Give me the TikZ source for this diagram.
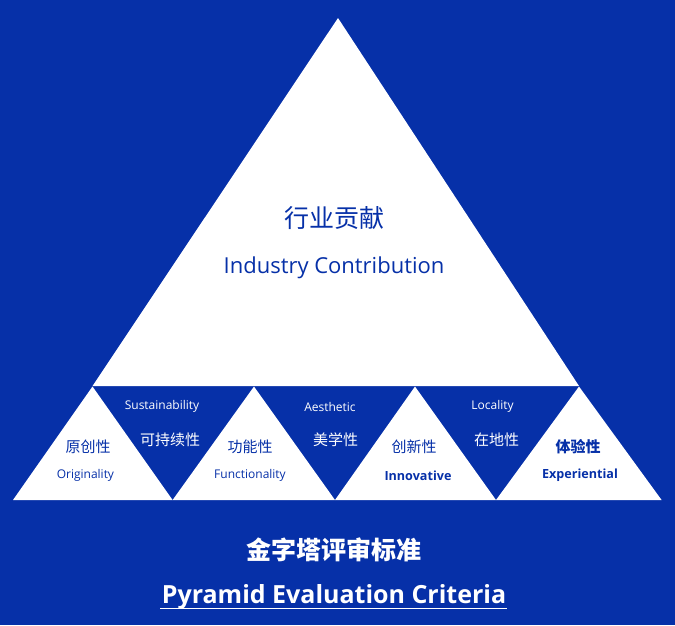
\documentclass[tikz,border=0pt]{standalone}
\usepackage{fontspec}
\setmainfont{Open Sans}
\newfontfamily\cjk{Noto Sans CJK SC}
\definecolor{bgblue}{RGB}{6,48,168}
\tikzset{
  whitetri/.style={fill=white, draw=none},
  lbl/.style={inner sep=0pt, anchor=center},
  onwhite/.style={lbl, text=bgblue},
  onblue/.style={lbl, text=white},
  cjkbig/.style={font=\cjk\fontsize{25}{30}\selectfont},
  cjksmall/.style={font=\cjk\fontsize{15}{18}\selectfont},
  cjksmallb/.style={font=\cjk\bfseries\fontsize{15}{18}\selectfont},
  lat/.style={font=\fontsize{12}{14}\selectfont},
  latb/.style={font=\bfseries\fontsize{12.6}{15}\selectfont},
}
\begin{document}
\begin{tikzpicture}[x=1pt,y=-1pt]
\fill[bgblue] (0,0) rectangle (675,625);
\useasboundingbox (0,0) rectangle (675,625);
% big triangle
\coordinate (apex) at (338,18);
\coordinate (bl) at (92.5,386);
\coordinate (br) at (579,386);
\fill[whitetri] (apex) -- (br) -- (bl) -- cycle;
% small triangles
\foreach \i/\l/\m/\r in {1/13/92.5/172.6, 2/172.6/254/335, 3/335/415/496, 4/496/579/661.6}{
  \coordinate (t\i a) at (\m,386.5);
  \coordinate (t\i l) at (\l,500);
  \coordinate (t\i r) at (\r,500);
  \fill[whitetri] (t\i a) -- (t\i r) -- (t\i l) -- cycle;
}
% big labels
\node[onwhite, cjkbig] (tcn) at (334,218) {行业贡献};
\node[onwhite, font=\fontsize{22}{26}\selectfont] (ten) at (334,268) {Industry Contribution};
% small white triangles
\node[onwhite, cjksmall] (o1) at (88,447) {原创性};
\node[onwhite, lat] (o2) at (85.4,475.5) {Originality};
\node[onwhite, cjksmall] (f1) at (250,447) {功能性};
\node[onwhite, lat] (f2) at (250,475.5) {Functionality};
\node[onwhite, cjksmall] (i1) at (414,447) {创新性};
\node[onwhite, latb] (i2) at (418,475.5) {Innovative};
\node[onwhite, cjksmallb] (e1) at (578,447) {体验性};
\node[onwhite, latb] (e2) at (580,475.5) {Experiential};
% inverted blue triangles
\node[onblue, lat] (s2) at (162,406.5) {Sustainability};
\node[onblue, cjksmall] (s1) at (170,440) {可持续性};
\node[onblue, lat] (a2) at (330,406.5) {Aesthetic};
\node[onblue, cjksmall] (a1) at (335.5,440) {美学性};
\node[onblue, lat] (l2) at (492.6,406.5) {Locality};
\node[onblue, cjksmall] (l1) at (496.5,440) {在地性};
% bottom titles
\node[onblue, font=\cjk\bfseries\fontsize{25}{30}\selectfont] (title) at (334,550) {金字塔评审标准};
\node[onblue, font=\bfseries\fontsize{25}{30}\selectfont] (subtitle) at (334,597) {Pyramid Evaluation Criteria};
\coordinate (ulL) at (160,608.5);
\coordinate (ulR) at (507,608.5);
\draw[white, line width=1.2pt] (ulL) -- (ulR);
\end{tikzpicture}
\end{document}
